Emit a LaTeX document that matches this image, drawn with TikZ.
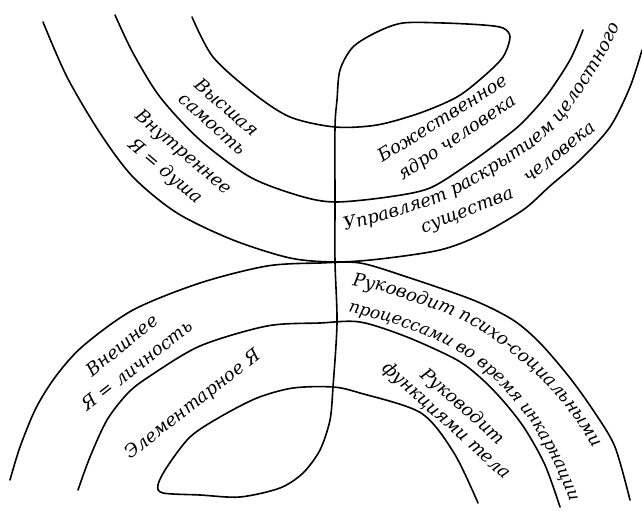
\documentclass[tikz,border=0pt]{standalone}
\usepackage{fontspec}
\setmainfont{DejaVu Serif}
\usetikzlibrary{decorations.text}

\begin{document}
\begin{tikzpicture}[x=1pt, y=1pt,
  arc/.style={line width=1.6pt, line cap=round, line join=round},
  lbl/.style={font=\itshape\fontsize{18}{20}\selectfont, inner sep=0pt},
  bent/.style 2 args={decorate, decoration={text along path,
    text={|\itshape\fontsize{#1}{20}\selectfont|#2},
    text align=left}}]

  \useasboundingbox (0,0) rectangle (642,513);

  % obere Bögen
  \draw[arc] plot[smooth] coordinates {(43,491) (67,436) (100,380) (133,336)
    (177,300) (233,273) (290,255) (335,251) (380,254) (440,263) (480,278)
    (523,303) (550,327) (580,353) (610,386) (630,426) (642,463)};
  \draw[arc] plot[smooth] coordinates {(115,498) (133,460) (160,416) (200,373)
    (250,336) (300,317) (335,311) (388,316) (430,325) (470,350) (500,372)
    (522,390) (547,418) (570,453) (583,483)};

  % untere Bögen
  \draw[arc] plot[smooth] coordinates {(10,33) (20,66) (36,105) (56,137)
    (83,167) (133,203) (200,230) (267,247) (320,250) (360,250) (407,236)
    (473,213) (513,193) (540,170) (570,135) (595,100) (615,66) (630,13)};
  \draw[arc] plot[smooth] coordinates {(78,23) (90,56) (107,93) (128,120)
    (150,137) (200,167) (267,187) (320,190) (360,191) (407,176) (457,153)
    (483,133) (505,110) (525,84) (545,48) (560,6)};

  % innerer Bogen oben, Schleife, Schaft, Schleife unten, innerer Bogen unten
  \draw[arc] plot[smooth] coordinates {(192,496) (213,456) (253,420) (290,396)
    (335,386) (377,388) (420,400) (457,416) (483,436) (503,456) (510,476)
    (503,485) (483,488) (443,490) (403,490) (377,481) (353,466) (340,443)
    (337,413) (335,386) (335,311) (335,251) (337,190) (333,126) (330,93)
    (320,63) (303,40) (280,25) (240,16) (200,18) (163,20) (158,28) (167,46)
    (190,76) (220,96) (257,115) (293,125) (333,126) (360,120) (421,100)
    (454,60) (478,10)};

  % Beschriftung links oben
  \node[lbl, rotate=-41] (hoch1) at (227,406) {Высшая};
  \node[lbl, rotate=-42] (hoch2) at (212,388) {самость};
  \node[lbl, rotate=-40] (seele1) at (183,360) {Внутреннее};
  \node[lbl, rotate=-40] (seele2) at (165,341) {Я = душа};

  % Beschriftung rechts oben
  \node[lbl, rotate=32] (kern1) at (442,395) {Божественное};
  \node[lbl, rotate=34] (kern2) at (457,375) {ядро человека};
  \path[bent={18}{Управляет раскрытием целостного}] plot coordinates
    {(345,282) (375,290) (405,299) (435,309) (460,320) (485,335) (510,350)
    (533,366) (553,382) (568,400) (583,421) (597,443) (610,466) (620,488)
    (628,510) (632,530)};
  \node[lbl, rotate=21] (wesen1) at (468,300) {существа};
  \node[lbl, rotate=39] (wesen2) at (560,360) {человека};

  % Beschriftung links unten
  \node[lbl, rotate=39] (pers1) at (122,168) {Внешнее};
  \node[lbl, rotate=38] (pers2) at (137,148) {Я = личность};
  \node[lbl, rotate=38] (elem) at (193,108) {Элементарное Я};

  % Beschriftung rechts unten
  \path[bent={18}{Руководит психо{-}социальными}] plot coordinates
    {(352,227) (380,222) (410,212) (440,202) (468,190) (490,176) (508,163)
    (530,145) (550,125) (567,105) (582,83) (595,62) (605,40) (612,20)};
  \path[bent={17}{процессами во время инкарнации}] plot coordinates
    {(348,201) (385,192) (415,182) (445,169) (470,154) (492,136) (512,115)
    (530,92) (545,68) (558,42) (568,17) (575,-5) (580,-25)};
  \node[lbl, rotate=-41] (leib1) at (462,106) {Руководит};
  \node[lbl, rotate=-42] (leib2) at (446,92) {функциями тела};
\end{tikzpicture}
\end{document}
